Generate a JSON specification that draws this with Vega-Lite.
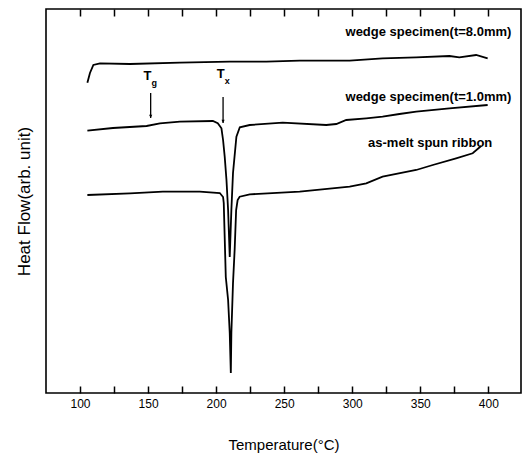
{
  "$schema": "https://vega.github.io/schema/vega-lite/v6.json",
  "width": 475,
  "height": 384,
  "autosize": {"type": "none"},
  "padding": {"left": 46, "top": 9, "right": 5, "bottom": 61},
  "config": {
    "view": {"stroke": "black", "strokeWidth": 1.6},
    "font": "Liberation Sans",
    "axis": {"labelColor": "black", "titleColor": "black", "tickColor": "black", "grid": false, "domain": false}
  },
  "resolve": {"axis": {"x": "independent"}},
  "datasets": {
    "curves": [
      {"s": "t8", "T": 105.4, "v": 310.3},
      {"s": "t8", "T": 107.3, "v": 320},
      {"s": "t8", "T": 109.8, "v": 328},
      {"s": "t8", "T": 114.7, "v": 329.7},
      {"s": "t8", "T": 136.7, "v": 329},
      {"s": "t8", "T": 173.4, "v": 330.3},
      {"s": "t8", "T": 210.0, "v": 331.3},
      {"s": "t8", "T": 236.9, "v": 331.3},
      {"s": "t8", "T": 261.4, "v": 332.3},
      {"s": "t8", "T": 298.1, "v": 332.3},
      {"s": "t8", "T": 322.3, "v": 334.7},
      {"s": "t8", "T": 347.0, "v": 335.7},
      {"s": "t8", "T": 371.4, "v": 337},
      {"s": "t8", "T": 378.7, "v": 335.7},
      {"s": "t8", "T": 391.0, "v": 338},
      {"s": "t8", "T": 399.5, "v": 334.7},
      {"s": "t1", "T": 105.4, "v": 262.3},
      {"s": "t1", "T": 124.2, "v": 265},
      {"s": "t1", "T": 148.9, "v": 267},
      {"s": "t1", "T": 158.7, "v": 269.7},
      {"s": "t1", "T": 173.4, "v": 271.3},
      {"s": "t1", "T": 197.6, "v": 272},
      {"s": "t1", "T": 201.2, "v": 269.7},
      {"s": "t1", "T": 202.7, "v": 267},
      {"s": "t1", "T": 203.9, "v": 264.7},
      {"s": "t1", "T": 205.1, "v": 253},
      {"s": "t1", "T": 206.3, "v": 236.3},
      {"s": "t1", "T": 207.6, "v": 213},
      {"s": "t1", "T": 208.8, "v": 183},
      {"s": "t1", "T": 210.0, "v": 136},
      {"s": "t1", "T": 211.2, "v": 183},
      {"s": "t1", "T": 212.4, "v": 220},
      {"s": "t1", "T": 214.9, "v": 256.3},
      {"s": "t1", "T": 217.4, "v": 265.7},
      {"s": "t1", "T": 224.7, "v": 268},
      {"s": "t1", "T": 248.9, "v": 270.3},
      {"s": "t1", "T": 280.9, "v": 268},
      {"s": "t1", "T": 288.3, "v": 269},
      {"s": "t1", "T": 295.6, "v": 273},
      {"s": "t1", "T": 310.3, "v": 274.7},
      {"s": "t1", "T": 322.3, "v": 276.3},
      {"s": "t1", "T": 334.7, "v": 279},
      {"s": "t1", "T": 347.0, "v": 281.3},
      {"s": "t1", "T": 371.4, "v": 284.7},
      {"s": "t1", "T": 399.5, "v": 288},
      {"s": "rb", "T": 105.4, "v": 198},
      {"s": "rb", "T": 136.7, "v": 199.7},
      {"s": "rb", "T": 160.9, "v": 201.3},
      {"s": "rb", "T": 173.4, "v": 201.3},
      {"s": "rb", "T": 188.0, "v": 201.3},
      {"s": "rb", "T": 202.7, "v": 200},
      {"s": "rb", "T": 205.1, "v": 196},
      {"s": "rb", "T": 205.6, "v": 190},
      {"s": "rb", "T": 207.1, "v": 116},
      {"s": "rb", "T": 208.8, "v": 93},
      {"s": "rb", "T": 210.0, "v": 60},
      {"s": "rb", "T": 210.8, "v": 20},
      {"s": "rb", "T": 211.2, "v": 60},
      {"s": "rb", "T": 212.4, "v": 110},
      {"s": "rb", "T": 213.6, "v": 143},
      {"s": "rb", "T": 214.7, "v": 183},
      {"s": "rb", "T": 215.8, "v": 193},
      {"s": "rb", "T": 217.3, "v": 196.3},
      {"s": "rb", "T": 224.7, "v": 198.7},
      {"s": "rb", "T": 261.4, "v": 201.3},
      {"s": "rb", "T": 298.1, "v": 206.3},
      {"s": "rb", "T": 310.3, "v": 209.7},
      {"s": "rb", "T": 322.3, "v": 216.3},
      {"s": "rb", "T": 347.0, "v": 223},
      {"s": "rb", "T": 359.2, "v": 228},
      {"s": "rb", "T": 376.3, "v": 234.7},
      {"s": "rb", "T": 388.5, "v": 239.7},
      {"s": "rb", "T": 394.7, "v": 247}
    ],
    "labels": [
      {"T": 416.9, "v": 361.3, "text": "wedge specimen(t=8.0mm)"},
      {"T": 416.9, "v": 296.3, "text": "wedge specimen(t=1.0mm)"},
      {"T": 402.9, "v": 249.7, "text": "as-melt spun ribbon"}
    ],
    "sym": [
      {"T": 149.5, "v": 317, "text": "T"},
      {"T": 203.4, "v": 319, "text": "T"}
    ],
    "subs": [
      {"T": 154.5, "v": 310, "text": "g"},
      {"T": 208.1, "v": 312, "text": "x"}
    ],
    "arrows": [
      {"T": 151.9, "v": 300, "v2": 275},
      {"T": 205.1, "v": 296, "v2": 270}
    ]
  },
  "encoding": {
    "y": {
      "field": "v", "type": "quantitative",
      "scale": {"domain": [0, 384], "nice": false, "zero": false},
      "axis": {"title": "Heat Flow(arb. unit)", "labels": false, "ticks": false, "titleFontSize": 17, "titleFontWeight": "normal", "titlePadding": 13}
    }
  },
  "layer": [
    {
      "data": {"name": "curves"},
      "mark": {"type": "line", "color": "black", "strokeWidth": 1.8},
      "encoding": {
        "x": {
          "field": "T", "type": "quantitative",
          "scale": {"domain": [75, 424], "nice": false, "zero": false},
          "axis": {
            "orient": "bottom",
            "values": [100, 125, 150, 175, 200, 225, 250, 275, 300, 325, 350, 375, 400],
            "labelExpr": "datum.value % 50 === 0 ? datum.label : ''",
            "tickSize": -7,
            "tickWidth": 1.5,
            "encode": {"ticks": {"update": {"y2": [{"test": "datum.value % 50 === 0", "value": -7}, {"value": -4}]}}},
            "labelFontSize": 12,
            "labelPadding": 12,
            "title": "Temperature(°C)",
            "titleFontSize": 15,
            "titleFontWeight": "normal",
            "titlePadding": 28
          }
        },
        "detail": {"field": "s"}
      }
    },
    {
      "data": {"name": "labels"},
      "mark": {"type": "text", "align": "right", "baseline": "middle", "fontSize": 13, "fontWeight": "bold", "color": "black"},
      "encoding": {
        "x": {
          "field": "T", "type": "quantitative",
          "axis": {
            "orient": "top",
            "values": [100, 125, 150, 175, 200, 225, 250, 275, 300, 325, 350, 375, 400],
            "labels": false,
            "tickSize": -7,
            "tickWidth": 1.5,
            "encode": {"ticks": {"update": {"y2": [{"test": "datum.value % 50 === 0", "value": 7}, {"value": 4}]}}},
            "title": null
          }
        },
        "text": {"field": "text"}
      }
    },
    {
      "data": {"name": "sym"},
      "mark": {"type": "text", "align": "center", "baseline": "middle", "fontSize": 13, "fontWeight": "bold", "color": "black"},
      "encoding": {
        "x": {"field": "T", "type": "quantitative", "axis": null},
        "text": {"field": "text"}
      }
    },
    {
      "data": {"name": "subs"},
      "mark": {"type": "text", "align": "center", "baseline": "middle", "fontSize": 9, "fontWeight": "bold", "color": "black"},
      "encoding": {
        "x": {"field": "T", "type": "quantitative", "axis": null},
        "text": {"field": "text"}
      }
    },
    {
      "data": {"name": "arrows"},
      "mark": {"type": "rule", "color": "black", "strokeWidth": 1.3},
      "encoding": {
        "x": {"field": "T", "type": "quantitative", "axis": null},
        "y2": {"field": "v2"}
      }
    },
    {
      "data": {"name": "arrows"},
      "mark": {"type": "point", "shape": "M-0.5,-1L0.5,-1L0,0Z", "filled": true, "color": "black", "opacity": 1, "size": 40},
      "encoding": {
        "x": {"field": "T", "type": "quantitative", "axis": null},
        "y": {
          "field": "v2", "type": "quantitative",
          "axis": {"title": "Heat Flow(arb. unit)", "labels": false, "ticks": false, "titleFontSize": 17, "titleFontWeight": "normal", "titlePadding": 13}
        }
      }
    }
  ]
}
